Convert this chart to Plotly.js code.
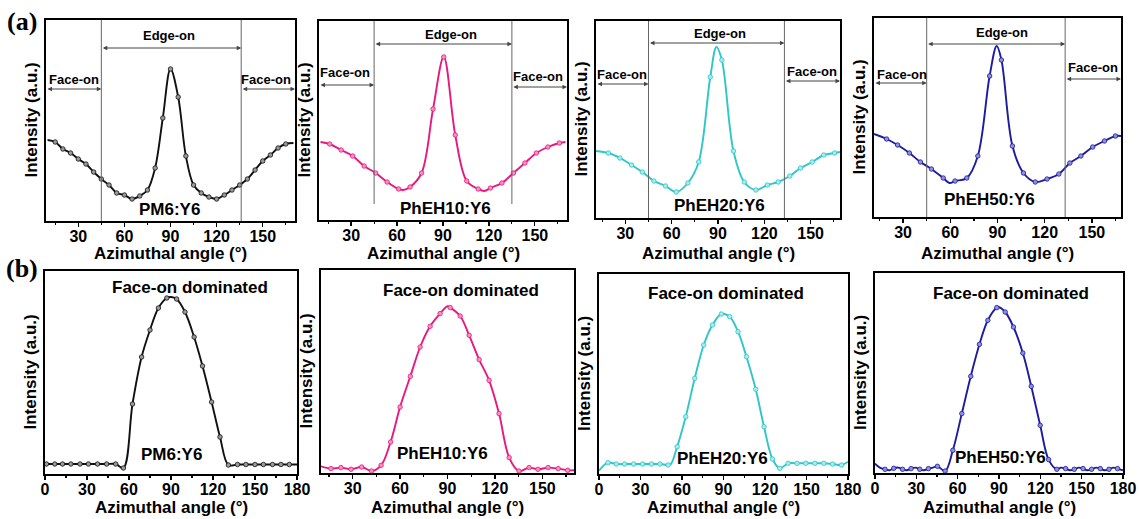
<!DOCTYPE html>
<html>
<head>
<meta charset="utf-8">
<script src="https://cdn.plot.ly/plotly-3.0.1.min.js"></script>
<style>
  html, body { margin: 0; padding: 0; background: #fff; }
  #chart { width: 1139px; height: 519px; }
</style>
</head>
<body>
<div id="chart"></div>
<script>
// ---------------------------------------------------------------
// Azimuthal intensity profiles of four PM6-based blends with Y6
// Row (a): out-of-plane (edge-on vs face-on); row (b): face-on
// ---------------------------------------------------------------
const samples = ['PM6:Y6', 'PhEH10:Y6', 'PhEH20:Y6', 'PhEH50:Y6'];
const xTitle = 'Azimuthal angle (°)';
const yTitle = 'Intensity (a.u.)';
const regionEdge = 'Edge-on';
const regionFace = 'Face-on';
const dominated = 'Face-on dominated';

// ---- row (a): sampled points (markers) and extra curve samples ----
const aPM6_x  = [15,20,25,30,35,40,45,50,55,60,65,70,75,80,85,90,95,100,105,110,115,120,125,130,135,140,145,150,155,160,165];
const aPM6_y  = [79,72,68,62,57,49,42,36,28,26,22,25,31,53,103,152,124,65,36,28,24,22,26,31,36,42,51,60,66,73,77];
const aPM6_ex = [10,170];
const aPM6_ey = [81,78];

const aEH10_x  = [16,23.5,31,38.5,46,53.5,61,68.5,76,83.5,90.5,98,105.5,113,121,128.5,136,143.5,151,158.5,166];
const aEH10_y  = [76,70,64,54,47,38,31,33,47,111,163,85,39,31,32,37,47,57,67,73,77];
const aEH10_ex = [10,64,117,170];
const aEH10_ey = [78,30,29,78];

const aEH20_x  = [19,26.5,34,41,48.5,56,63,70.5,77.5,85,92.5,100,107,114.5,122,129,136.5,143.5,151,158.5,165.5];
const aEH20_y  = [65,60,53,46,37,32,26,35,56,141,158,67,36,28,33,36,42,50,56,63,65];
const aEH20_ex = [11,89,169];
const aEH20_ey = [67,171,66];

const aEH50_x  = [19.5,26.5,34,41,48,55.5,63,70.5,77.5,85,92.5,99.5,106.5,114,121.5,129,136,143,150.5,158,165];
const aEH50_y  = [78,72,64,55,48,39,36,39,61,141,157,71,44,35,38,43,54,61,70,76,81];
const aEH50_ex = [11.5,59.5,89.5,168.5];
const aEH50_ey = [83,34,171,81];

// ---- row (b) ----
const bPM6_x  = [1,7,12.5,18.5,25,31,37.5,44,50.5,56,62.5,69,75,81,87,94,100,106.5,112.5,119,125,131,137.5,143.5,150,156,162.5,168.5,174.5];
const bPM6_y  = [10,10,10,10,10,10,10,10,10,6,70,117,144,166,176,175,162,137,108,72,37,9,9.5,9.5,9.5,9.5,9.5,9.5,9.5];
const bPM6_ex = [0,90,180];
const bPM6_ey = [10,177,9.5];

const bEH10_x  = [16.3,22.6,29,35.7,42,48,54,60,66.5,72.7,79,85.3,91.7,98,103.7,110,116.3,122.6,129,135.2,141.6,147.2,153.6,160,166];
const bEH10_y  = [4.4,5.4,3.7,6,2,7.7,31,66,96.7,126,146.7,159.4,165.4,157,137.7,113.4,92.7,59.4,15.4,2,5.4,3.7,5.4,4.4,2.7];
const bEH10_ex = [10,90,170];
const bEH10_ey = [6.7,166.7,2.7];

const bEH20_x  = [6.5,12.5,18.5,25,31.5,38,44,50,56.5,62.7,69.2,75.7,82,88.5,94.5,100.5,106.6,113.3,119.3,125.4,130.7,136.7,143.2,149.5,156,162.5,168.8,175.3];
const bEH20_y  = [11.3,10,10,10,10,10,10,9,27.3,57.3,95.7,129,149,160,157.3,142.3,117.3,84.7,47.3,15,5.7,10.7,10.7,10.7,10.7,10.7,10,9];
const bEH20_ex = [0,52,180];
const bEH20_ey = [3.3,10,12.3];

const bEH50_x  = [7.3,13.6,20,26.2,32.5,38.8,45.3,50.9,56.5,63,69.5,75.8,81.9,88.4,94.5,100.5,107.3,113.4,119.9,126,132,138.3,144.6,151,157.2,163.5,169.8,176];
const bEH50_y  = [3.7,4.7,3.7,4.4,3.7,4.4,6.7,2,22.7,59.4,96.7,128.7,152.7,165.4,161,146,120,86.7,47.7,13.4,3.7,4.4,3.7,4.4,3.7,4.4,3.7,4.4];
const bEH50_ex = [0,3.5,10.5,17,23,29.5,35.5,42,89.5,135,141.5,148,154,160.5,166.5,173,180];
const bEH50_ey = [9.4,5.4,2.7,5.4,2.7,5.4,2.7,5.4,166,5.4,2.7,5.4,2.7,5.4,2.7,5.4,2.7];

// ---------------------------------------------------------------
const W = 1139, H = 519;
const SANS = 'Liberation Sans, Arial, Helvetica, sans-serif';
const SERIF = 'Liberation Serif, Times New Roman, serif';
const lineColors = ['#111111', '#e8197d', '#2fc6c8', '#1c1c9e'];
const fillColors = ['#9a9a9a', '#f590c2', '#a6eced', '#8f8fdc'];

const px = v => v / W;
const py = v => 1 - v / H;

// panel frames in page pixels [left, top, right, bottom]
const panels = [
  { box: [46, 20, 295, 221],  xr: [9, 171],    mx: aPM6_x,  my: aPM6_y,  ex: aPM6_ex,  ey: aPM6_ey,  k: 0, row: 'a',
    vl: [45, 136], vlBottom: 221, edgeY: 48, edgeLY: 36, edgeLX: 89, fl: [89, 79, 27], fr: [89, 80, 152], name: [170, 209] },
  { box: [319, 21, 567, 220], xr: [9, 171],    mx: aEH10_x, my: aEH10_y, ex: aEH10_ex, ey: aEH10_ey, k: 1, row: 'a',
    vl: [45, 135], vlBottom: 204, edgeY: 44, edgeLY: 34, edgeLX: 95, fl: [85, 73, 26], fr: [87, 76, 152], name: [445, 208] },
  { box: [596, 21, 840, 218], xr: [11, 169],   mx: aEH20_x, my: aEH20_y, ex: aEH20_ex, ey: aEH20_ey, k: 2, row: 'a',
    vl: [45, 133], vlBottom: 218, edgeY: 43, edgeLY: 33, edgeLX: 91, fl: [84, 75, 28], fr: [81, 72, 151], name: [719, 205] },
  { box: [874, 18, 1121, 217], xr: [11.5, 168.5], mx: aEH50_x, my: aEH50_y, ex: aEH50_ex, ey: aEH50_ey, k: 3, row: 'a',
    vl: [45, 133], vlBottom: 217, edgeY: 44, edgeLY: 32, edgeLX: 93, fl: [83, 75, 29], fr: [79, 68, 151], name: [989, 200] },
  { box: [45, 271, 297, 474],  xr: [0, 180],  mx: bPM6_x,  my: bPM6_y,  ex: bPM6_ex,  ey: bPM6_ey,  k: 0, row: 'b',
    dom: [190, 287], name: [171, 454] },
  { box: [321, 270, 574, 473], xr: [10, 170], mx: bEH10_x, my: bEH10_y, ex: bEH10_ex, ey: bEH10_ey, k: 1, row: 'b',
    dom: [461, 290], name: [442, 453] },
  { box: [599, 274, 848, 474], xr: [0, 180],  mx: bEH20_x, my: bEH20_y, ex: bEH20_ex, ey: bEH20_ey, k: 2, row: 'b',
    dom: [726, 293], name: [722, 458] },
  { box: [875, 273, 1123, 473], xr: [0, 180], mx: bEH50_x, my: bEH50_y, ex: bEH50_ex, ey: bEH50_ey, k: 3, row: 'b',
    dom: [1011, 293], name: [1000, 457] }
];

// join marker samples with the extra curve samples, ordered by angle
function curve(x, y, ex, ey) {
  const pts = x.map((v, i) => [v, y[i]]).concat(ex.map((v, i) => [v, ey[i]]));
  pts.sort((a, b) => a[0] - b[0]);
  return [pts.map(p => p[0]), pts.map(p => p[1])];
}

function label(text, x, y, size, extra) {
  return Object.assign({
    xref: 'paper', yref: 'paper', x: px(x), y: py(y),
    text: '<b>' + text + '</b>', showarrow: false,
    xanchor: 'center', yanchor: 'middle',
    font: { family: SANS, size: size, color: '#000' }
  }, extra || {});
}

function arrow(s, x0, x1, yPix) {
  return {
    xref: 'x' + s, yref: 'paper', axref: 'x' + s, ayref: 'pixel',
    x: x1, ax: x0, y: py(yPix), ay: 0,
    text: '', showarrow: true, arrowside: 'end+start',
    arrowhead: 2, arrowsize: 0.9, arrowwidth: 1, arrowcolor: '#444'
  };
}

const traces = [];
const shapes = [];
const annotations = [];
const layout = {
  width: W, height: H,
  margin: { l: 0, r: 0, t: 0, b: 0 },
  paper_bgcolor: '#fff', plot_bgcolor: '#fff',
  showlegend: false,
  font: { family: SANS, color: '#000' }
};

panels.forEach((p, i) => {
  const s = i === 0 ? '' : String(i + 1);
  const [l, t, r, b] = p.box;
  const [cx, cy] = curve(p.mx, p.my, p.ex, p.ey);

  traces.push({
    x: cx, y: cy, xaxis: 'x' + s, yaxis: 'y' + s,
    type: 'scatter', mode: 'lines', hoverinfo: 'skip',
    line: { color: lineColors[p.k], width: 1.9, shape: 'spline', smoothing: 1 }
  });
  traces.push({
    x: p.mx, y: p.my, xaxis: 'x' + s, yaxis: 'y' + s,
    type: 'scatter', mode: 'markers', hoverinfo: 'skip',
    marker: { symbol: 'circle', size: 4.5, color: fillColors[p.k],
              line: { color: lineColors[p.k], width: 0.8 } }
  });

  layout['xaxis' + s] = {
    domain: [px(l), px(r)], range: p.xr, anchor: 'y' + s,
    showline: true, mirror: true, linecolor: '#000', linewidth: 1.8,
    showgrid: false, zeroline: false, fixedrange: true,
    tickmode: 'linear', tick0: 0, dtick: 30,
    ticks: 'outside', ticklen: 4, tickwidth: 1.3, tickcolor: '#000',
    ticklabelstandoff: -4,
    minor: { tick0: 0, dtick: 15, ticks: 'outside', ticklen: 2.5, tickwidth: 1.2, tickcolor: '#000' },
    tickfont: { family: SANS, size: 16, color: '#000', weight: 'bold' }
  };
  layout['yaxis' + s] = {
    domain: [py(b), py(t)], range: [0, b - t], anchor: 'x' + s,
    showline: true, mirror: true, linecolor: '#000', linewidth: 1.8,
    showgrid: false, zeroline: false, fixedrange: true,
    ticks: '', showticklabels: false
  };

  // axis titles
  annotations.push(label(xTitle, (l + r) / 2, p.row === 'a' ? 253 : 507, 17));
  annotations.push(label(yTitle, l - 15, (t + b) / 2, 17, { textangle: -90 }));

  // blend name
  annotations.push(label(samples[p.k], p.name[0], p.name[1], 17));

  if (p.row === 'a') {
    p.vl.forEach(v => shapes.push({
      type: 'line', xref: 'x' + s, yref: 'paper',
      x0: v, x1: v, y0: py(p.vlBottom), y1: py(t),
      line: { color: '#666', width: 1 }
    }));
    annotations.push(arrow(s, p.vl[0], p.vl[1], p.edgeY));
    annotations.push(arrow(s, p.xr[0], p.vl[0], p.fl[0]));
    annotations.push(arrow(s, p.vl[1], p.xr[1], p.fr[0]));
    annotations.push({ xref: 'x' + s, yref: 'paper', x: p.edgeLX, y: py(p.edgeLY),
      text: '<b>' + regionEdge + '</b>', showarrow: false, xanchor: 'center', yanchor: 'middle',
      font: { family: SANS, size: 13, color: '#000' } });
    annotations.push({ xref: 'x' + s, yref: 'paper', x: p.fl[2], y: py(p.fl[1]),
      text: '<b>' + regionFace + '</b>', showarrow: false, xanchor: 'center', yanchor: 'middle',
      font: { family: SANS, size: 13, color: '#000' } });
    annotations.push({ xref: 'x' + s, yref: 'paper', x: p.fr[2], y: py(p.fr[1]),
      text: '<b>' + regionFace + '</b>', showarrow: false, xanchor: 'center', yanchor: 'middle',
      font: { family: SANS, size: 13, color: '#000' } });
  } else {
    annotations.push(label(dominated, p.dom[0], p.dom[1], 17));
  }
});

// row letters
annotations.push({ xref: 'paper', yref: 'paper', x: px(22), y: py(22), text: '<b>(a)</b>',
  showarrow: false, xanchor: 'center', yanchor: 'middle', font: { family: SERIF, size: 26, color: '#000' } });
annotations.push({ xref: 'paper', yref: 'paper', x: px(22), y: py(269), text: '<b>(b)</b>',
  showarrow: false, xanchor: 'center', yanchor: 'middle', font: { family: SERIF, size: 26, color: '#000' } });

layout.shapes = shapes;
layout.annotations = annotations;

Plotly.newPlot('chart', traces, layout, { displayModeBar: false, staticPlot: true });
</script>
</body>
</html>
